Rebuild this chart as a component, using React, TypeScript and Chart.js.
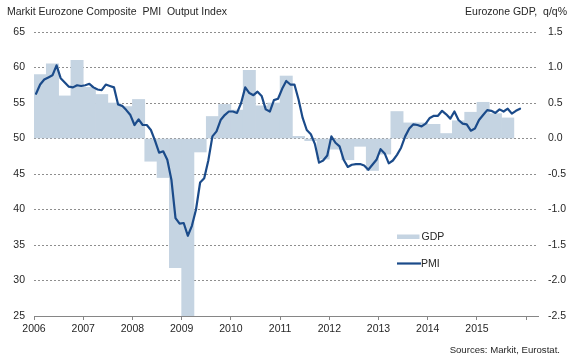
import React, { useEffect, useRef } from 'react';
import { Chart, registerables } from 'chart.js';

Chart.register(...registerables);

// Year tick labels (x axis)
const yearLabels = ['2006', '2007', '2008', '2009', '2010', '2011', '2012', '2013', '2014', '2015'];

// Eurozone GDP, q/q % (quarterly, Q1..Q4)
const gdp2006 = [0.9, 1.05, 0.6, 1.1];
const gdp2007 = [0.72, 0.62, 0.5, 0.45];
const gdp2008 = [0.55, -0.32, -0.55, -1.82];
const gdp2009 = [-2.5, -0.19, 0.31, 0.48];
const gdp2010 = [0.4, 0.96, 0.46, 0.5];
const gdp2011 = [0.88, 0.03, -0.03, -0.29];
const gdp2012 = [-0.15, -0.3, -0.11, -0.45];
const gdp2013 = [-0.22, 0.38, 0.22, 0.22];
const gdp2014 = [0.2, 0.07, 0.25, 0.37];
const gdp2015 = [0.51, 0.35, 0.29];

// Markit Eurozone Composite PMI Output Index (monthly, Jan..Dec)
const pmi2006 = [56.3, 57.6, 58.3, 58.6, 58.9, 60.3, 58.5, 57.9, 57.3, 57.2, 57.5, 57.4];
const pmi2007 = [57.5, 57.7, 57.2, 56.9, 56.8, 57.6, 57.4, 57.2, 54.8, 54.6, 54.0, 53.3];
const pmi2008 = [51.9, 52.7, 51.9, 51.9, 51.2, 49.7, 48.0, 48.2, 47.0, 44.2, 38.8, 38.0];
const pmi2009 = [38.1, 36.3, 37.7, 40.0, 43.8, 44.4, 46.9, 50.3, 51.0, 52.6, 53.3, 53.8];
const pmi2010 = [53.8, 53.6, 55.0, 57.2, 56.4, 56.1, 56.6, 56.0, 54.1, 53.8, 55.4, 55.6];
const pmi2011 = [57.0, 58.1, 57.6, 57.6, 55.5, 52.9, 51.2, 50.6, 49.2, 46.6, 46.9, 47.6];
const pmi2012 = [50.3, 49.4, 48.9, 47.0, 46.0, 46.3, 46.4, 46.4, 46.2, 45.6, 46.3, 47.0];
const pmi2013 = [48.5, 47.9, 46.5, 46.9, 47.7, 48.7, 50.3, 51.4, 52.0, 51.9, 51.7, 52.1];
const pmi2014 = [52.9, 53.2, 53.2, 53.9, 53.4, 52.8, 53.8, 52.6, 52.1, 52.0, 51.1, 51.4];
const pmi2015 = [52.6, 53.3, 54.0, 53.9, 53.6, 54.1, 53.8, 54.2, 53.5, 53.9, 54.2];

const FONT = '"Liberation Sans", Arial, Helvetica, sans-serif';
const TEXT = '#262626';
const BAR = '#c5d4e2';
const LINE = '#1b4b8a';
const AXIS = '#868686';
const GRID = '#8e8e8e';

export default function App() {
  const ref = useRef<HTMLCanvasElement>(null);

  useEffect(() => {
    if (!ref.current) return;
    const gdpAll = [
      ...gdp2006, ...gdp2007, ...gdp2008, ...gdp2009, ...gdp2010,
      ...gdp2011, ...gdp2012, ...gdp2013, ...gdp2014, ...gdp2015,
    ];
    const pmiAll = [
      ...pmi2006, ...pmi2007, ...pmi2008, ...pmi2009, ...pmi2010,
      ...pmi2011, ...pmi2012, ...pmi2013, ...pmi2014, ...pmi2015,
    ];
    const firstYear = Number(yearLabels[0]);
    const gdpPoints = gdpAll.map((v, i) => ({ x: firstYear + (i + 0.5) / 4, y: v }));
    const pmiPoints = pmiAll.map((v, i) => ({ x: firstYear + (i + 0.5) / 12, y: v }));

    const overlay = {
      id: 'overlay',
      afterDraw(chart: any) {
        const ctx = chart.ctx as CanvasRenderingContext2D;
        ctx.save();
        ctx.fillStyle = TEXT;
        ctx.textBaseline = 'alphabetic';
        ctx.font = `10.5px ${FONT}`;
        ctx.textAlign = 'left';
        ctx.fillText('Markit Eurozone Composite  PMI  Output Index', 7, 14.5);
        ctx.textAlign = 'right';
        ctx.fillText('Eurozone GDP,  q/q%', 567, 14.5);

        // legend
        ctx.fillStyle = BAR;
        ctx.fillRect(397, 234.5, 22.5, 4.5);
        ctx.strokeStyle = LINE;
        ctx.lineWidth = 2.2;
        ctx.beginPath();
        ctx.moveTo(397, 263.5);
        ctx.lineTo(421, 263.5);
        ctx.stroke();
        ctx.fillStyle = TEXT;
        ctx.textAlign = 'left';
        ctx.fillText('GDP', 421.5, 240.3);
        ctx.fillText('PMI', 421, 267.3);

        // sources
        ctx.font = `9.6px ${FONT}`;
        ctx.textAlign = 'right';
        ctx.fillText('Sources: Markit, Eurostat.', 560, 352.5);
        ctx.restore();
      },
    };

    const chart = new Chart(ref.current, {
      data: {
        datasets: [
          {
            type: 'line',
            label: 'PMI',
            data: pmiPoints,
            yAxisID: 'y',
            borderColor: LINE,
            borderWidth: 2.2,
            pointRadius: 0,
            tension: 0,
            borderJoinStyle: 'round',
            borderCapStyle: 'round',
            order: 0,
          },
          {
            type: 'bar',
            label: 'GDP',
            data: gdpPoints,
            yAxisID: 'y1',
            backgroundColor: BAR,
            borderWidth: 0,
            barPercentage: 1,
            categoryPercentage: 1,
            order: 1,
          },
        ],
      } as any,
      options: {
        responsive: false,
        animation: false,
        devicePixelRatio: 1,
        layout: { padding: { top: 32, left: 0, right: 0, bottom: 0 } },
        plugins: { legend: { display: false }, tooltip: { enabled: false } },
        scales: {
          x: {
            type: 'linear',
            offset: false,
            min: firstYear,
            max: firstYear + 10.24,
            afterFit: (s: any) => { s.height = 44; },
            grid: { offset: false, drawOnChartArea: false, drawTicks: true, tickLength: 4, color: AXIS },
            border: { display: true, color: AXIS, width: 1 },
            ticks: {
              stepSize: 1,
              includeBounds: false,
              autoSkip: false,
              maxRotation: 0,
              padding: 3,
              color: TEXT,
              font: { family: FONT, size: 10.5 },
              callback: (v: any) => {
                const idx = Math.round(Number(v) - firstYear);
                return yearLabels[idx] ?? '';
              },
            },
          },
          y: {
            position: 'left',
            min: 25,
            max: 65,
            afterFit: (s: any) => { s.width = 34; },
            grid: { color: GRID, drawTicks: false, lineWidth: 1 },
            border: { display: false, dash: [2, 2] },
            ticks: {
              stepSize: 5,
              padding: 9,
              color: TEXT,
              font: { family: FONT, size: 10.5 },
            },
          },
          y1: {
            position: 'right',
            min: -2.5,
            max: 1.5,
            afterFit: (s: any) => { s.width = 33; },
            grid: { drawOnChartArea: false, drawTicks: false },
            border: { display: false },
            ticks: {
              stepSize: 0.5,
              padding: 10,
              color: TEXT,
              font: { family: FONT, size: 10.5 },
              callback: (v: any) => Number(v).toFixed(1),
            },
          },
        },
      } as any,
      plugins: [overlay],
    });
    return () => chart.destroy();
  }, []);

  return (
    <div style={{ position: 'fixed', left: 0, top: 0, width: 571, height: 360, background: '#fff' }}>
      <canvas ref={ref} width={571} height={360} style={{ display: 'block', width: 571, height: 360 }} />
    </div>
  );
}
